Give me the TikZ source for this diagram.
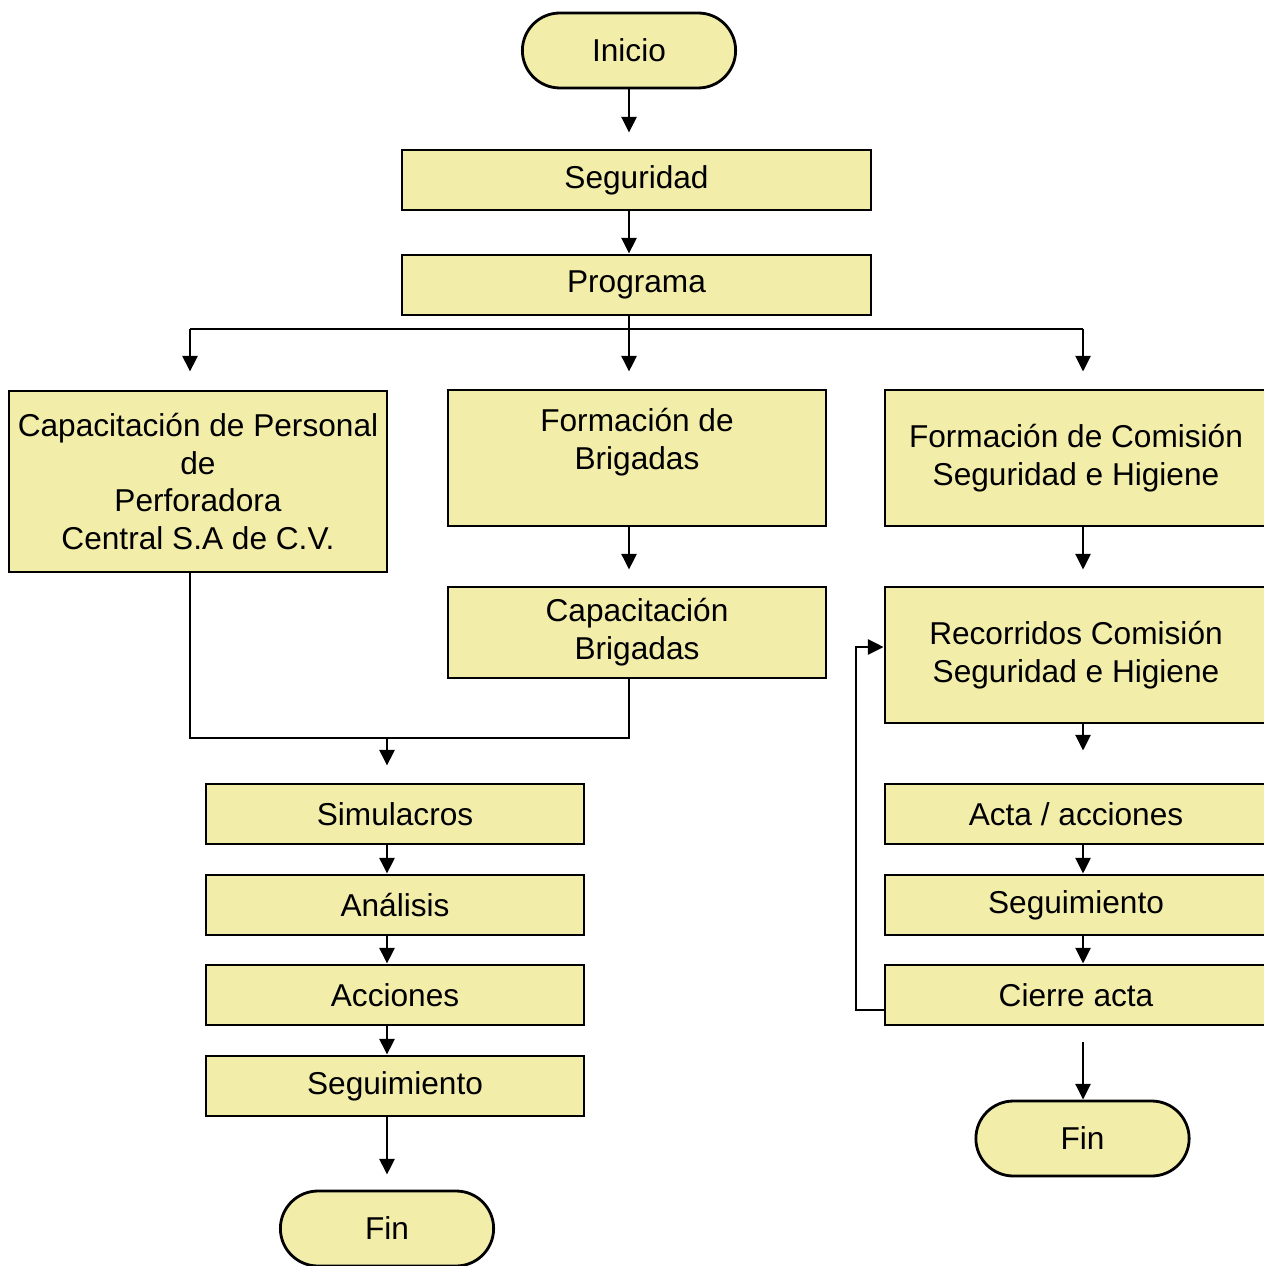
\documentclass[tikz,border=0pt]{standalone}
\usepackage{fontspec}
\setmainfont{Liberation Sans}
\usetikzlibrary{arrows.meta,shapes.misc}
\definecolor{caja}{RGB}{243,237,170}
\tikzset{
  paso/.style={draw,line width=1.6pt,fill=caja,minimum width=7.56cm,minimum height=1.2cm,align=center,inner sep=2pt},
  pasoD/.style={paso,minimum width=7.64cm},
  term/.style={draw,line width=1.6pt,fill=caja,rounded rectangle,minimum width=4.5cm,minimum height=1.5cm},
  flecha/.style={-{Triangle[length=9pt,width=8.5pt]},line width=1.6pt}
}
\begin{document}
\begin{tikzpicture}[x=0.02cm,y=-0.02cm,line join=miter,font=\fontsize{18}{21.6}\selectfont]
		\useasboundingbox (0,0) rectangle (1263,1266);
		% inicio y tronco
		\node[term] (ini) at (629,50.5) {Inicio};
		\node[paso,minimum width=9.38cm] (seg) at (636.5,180) {Seguridad};
		\node[paso,minimum width=9.38cm] (prog) at (636.5,285) {Programa};
		% tres ramas
		\node[paso,minimum height=3.62cm] (cap) at (198,481.5) {Capacitación de Personal\\de\\Perforadora\\Central S.A de C.V.};
		\node[paso,minimum height=2.72cm] (fb) at (637,458) {Formación de\\Brigadas\\\mbox{}};
		\node[pasoD,minimum height=2.72cm] (fc) at (1076,458) {Formación de Comisión\\Seguridad e Higiene};
		\node[paso,minimum height=1.82cm] (cb) at (637,632.5) {Capacitación\\Brigadas};
		\node[pasoD,minimum height=2.72cm] (rec) at (1076,655) {Recorridos Comisión\\Seguridad e Higiene};
		% rama izquierda
		\node[paso] (sim) at (395,814) {Simulacros};
		\node[paso] (ana) at (395,905) {Análisis};
		\node[paso] (acc) at (395,995) {Acciones};
		\node[paso] (segI) at (395,1086) {Seguimiento};
		\node[term] (finI) at (387,1228.5) {Fin};
		% rama derecha
		\node[pasoD] (acta) at (1076,814) {Acta / acciones};
		\node[pasoD] (segD) at (1076,905) {Seguimiento};
		\node[pasoD] (cie) at (1076,995) {Cierre acta};
		\node[term] (finD) at (1082.5,1138.5) {Fin};
		% puntos de quiebre
		\coordinate (rama) at (629,329);
		\coordinate (rI) at (190,329);
		\coordinate (rD) at (1083,329);
		\coordinate (unI) at (190,738);
		\coordinate (unD) at (629,738);
		\coordinate (unM) at (387,738);
		\coordinate (vA) at (856,1010);
		\coordinate (vB) at (856,647);
		% conectores
		\draw[flecha,shorten >=0.32cm] (ini.south) -- (ini.south|-seg.north);
		\draw[flecha] (seg.south-|rama) -- (prog.north-|rama);
		\draw[line width=1.6pt] (prog.south-|rama) -- (rama);
		\draw[line width=1.6pt] (rI) -- (rD);
		\draw[flecha,shorten >=0.36cm] (rI) -- (rI|-cap.north);
		\draw[flecha,shorten >=0.34cm] (rama) -- (rama|-fb.north);
		\draw[flecha,shorten >=0.34cm] (rD) -- (rD|-fc.north);
		\draw[flecha,shorten >=0.32cm] (fb.south-|rama) -- (cb.north-|rama);
		\draw[flecha,shorten >=0.32cm] (fc.south-|rD) -- (rec.north-|rD);
		\draw[line width=1.6pt] (cap.south-|rI) -- (unI) -- (unD) -- (cb.south-|rama);
		\draw[flecha,shorten >=0.34cm] (unM) -- (unM|-sim.north);
		\draw[flecha] (sim.south-|unM) -- (ana.north-|unM);
		\draw[flecha] (ana.south-|unM) -- (acc.north-|unM);
		\draw[flecha] (acc.south-|unM) -- (segI.north-|unM);
		\draw[flecha,shorten >=0.3cm] (segI.south-|unM) -- (finI.north-|unM);
		\draw[flecha,shorten >=0.64cm] (rec.south-|rD) -- (acta.north-|rD);
		\draw[flecha] (acta.south-|rD) -- (segD.north-|rD);
		\draw[flecha] (segD.south-|rD) -- (cie.north-|rD);
		\draw[flecha,shorten <=0.32cm] (cie.south-|rD) -- (finD.north-|rD);
		\draw[flecha] (vA-|cie.west) -- (vA) -- (vB) -- (vB-|rec.west);
\end{tikzpicture}
\end{document}
